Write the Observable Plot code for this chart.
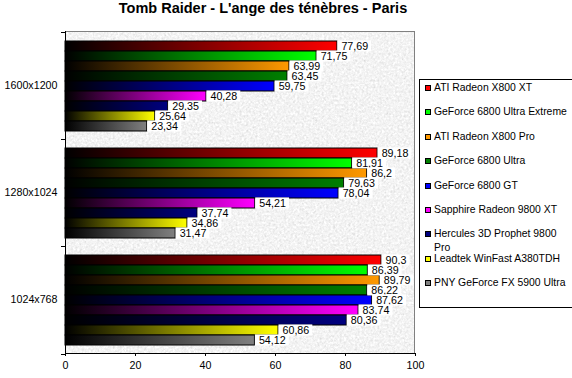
<!DOCTYPE html>
<html>
<head>
<meta charset="utf-8">
<script src="https://cdn.jsdelivr.net/npm/d3@7"></script>
<script src="https://cdn.jsdelivr.net/npm/@observablehq/plot@0.6"></script>
<style>
  html, body { margin: 0; padding: 0; background: #ffffff; overflow: hidden; }
  #wrap { position: relative; width: 572px; height: 378px; font-family: "Liberation Sans", Arial, sans-serif; }
  #title { position: absolute; left: 0; top: 0; width: 526px; text-align: center; font-weight: bold; font-size: 14.5px; line-height: 17px; color: #000; }
  #plot { position: absolute; left: 0; top: 0; }
  #legend { position: absolute; left: 419px; top: 79px; width: 160px; height: 227px; border: 1px solid #000; background: #fff; }
  .item { position: absolute; left: 5px; font-size: 10.4px; line-height: 14px; color: #000; }
  .sw { position: absolute; left: 0; top: 4px; width: 4px; height: 4px; border: 1px solid #000; }
  .lab { position: absolute; left: 9px; top: 0; width: 138px; white-space: normal; }
</style>
</head>
<body>
<div id="wrap">
  <div id="plot"></div>
  <div id="title">Tomb Raider - L'ange des ténèbres - Paris</div>
  <div id="legend"></div>
</div>
<script>
const groups = ["1600x1200", "1280x1024", "1024x768"];
const series = [
  "ATI Radeon X800 XT",
  "GeForce 6800 Ultra Extreme",
  "ATI Radeon X800 Pro",
  "GeForce 6800 Ultra",
  "GeForce 6800 GT",
  "Sapphire Radeon 9800 XT",
  "Hercules 3D Prophet 9800 Pro",
  "Leadtek WinFast A380TDH",
  "PNY GeForce FX 5900 Ultra"
];
const colors = ["#ff0000", "#00ff00", "#ff9900", "#008000", "#0000ff", "#ff00ff", "#000080", "#ffff00", "#808080"];
const values1600 = [77.69, 71.75, 63.99, 63.45, 59.75, 40.28, 29.35, 25.64, 23.34];
const values1280 = [89.18, 81.91, 86.2, 79.63, 78.04, 54.21, 37.74, 34.86, 31.47];
const values1024 = [90.3, 86.39, 89.79, 86.22, 87.62, 83.74, 80.36, 60.86, 54.12];
const xTicks = [0, 20, 40, 60, 80, 100];

const valueSets = [values1600, values1280, values1024];
const data = groups.flatMap((g, gi) => valueSets[gi].map((v, i) => ({group: g, series: series[i], value: v, idx: i})));
const fmt = v => String(v).replace(".", ",");

const plot = Plot.plot({
  width: 572,
  height: 378,
  marginLeft: 65,
  marginRight: 157,
  marginTop: 31,
  marginBottom: 24,
  style: {fontFamily: "'Liberation Sans', Arial, sans-serif", fontSize: "10.7px", color: "#000", background: "transparent", overflow: "visible"},
  x: {domain: [0, 100], ticks: xTicks, tickSize: 3, tickPadding: 5, label: null},
  y: {domain: series, axis: null, paddingInner: 0, paddingOuter: 0.83},
  fy: {domain: groups, padding: 0, label: null, axis: "left", tickSize: 0, tickPadding: 8},
  color: {type: "identity"},
  marks: [
    Plot.barX(data, {fy: "group", y: "series", x: "value", fill: d => `url(#grad${d.idx})`, stroke: "#000", strokeWidth: 1}),
    Plot.text(data, {fy: "group", y: "series", x: "value", text: d => fmt(d.value), textAnchor: "start", dx: 4, fill: "#000"})
  ]
});
document.getElementById("plot").appendChild(plot);

const svg = d3.select(plot);
const defs = svg.insert("defs", ":first-child");
series.forEach((s, i) => {
  const g = defs.append("linearGradient").attr("id", "grad" + i).attr("x1", 0).attr("x2", 1).attr("y1", 0).attr("y2", 0);
  g.append("stop").attr("offset", 0).attr("stop-color", "#000");
  g.append("stop").attr("offset", 1).attr("stop-color", colors[i]);
});
const f = defs.append("filter").attr("id", "noise").attr("x", 0).attr("y", 0).attr("width", 1).attr("height", 1);
f.append("feTurbulence").attr("type", "fractalNoise").attr("baseFrequency", 0.45).attr("numOctaves", 3).attr("seed", 7);
f.append("feColorMatrix").attr("type", "matrix").attr("values", "0.33 0.33 0.33 0 0  0.33 0.33 0.33 0 0  0.33 0.33 0.33 0 0  0 0 0 0 1");
const ct = f.append("feComponentTransfer");
["feFuncR", "feFuncG", "feFuncB"].forEach(n => ct.append(n).attr("type", "linear").attr("slope", 0.7).attr("intercept", 0.55));

const xs = plot.scale("x");
const fys = plot.scale("fy");
const x0 = xs.apply(0), x1 = xs.apply(100);
const y0 = fys.range[0], y1 = fys.range[1];

svg.insert("rect", "g").attr("x", x0).attr("y", y0).attr("width", x1 - x0).attr("height", y1 - y0).attr("fill", "#e8e8e8").attr("filter", "url(#noise)");

// value label boxes
svg.selectAll('g[aria-label="text"] text').each(function() {
  const b = this.getBBox();
  const cy = b.y + b.height / 2;
  const r = document.createElementNS("http://www.w3.org/2000/svg", "rect");
  r.setAttribute("x", b.x - 4);
  r.setAttribute("y", cy - 5.5);
  r.setAttribute("width", b.width + 7);
  r.setAttribute("height", 11);
  r.setAttribute("fill", "#fff");
  const t = this.getAttribute("transform");
  if (t) r.setAttribute("transform", t);
  this.parentNode.insertBefore(r, this);
});

// frame lines
const fr = svg.append("g");
fr.append("line").attr("x1", x0).attr("x2", x1).attr("y1", y0 + 0.5).attr("y2", y0 + 0.5).attr("stroke", "#808080");
fr.append("line").attr("x1", x1 - 0.5).attr("x2", x1 - 0.5).attr("y1", y0).attr("y2", y1).attr("stroke", "#808080");
fr.append("line").attr("x1", x0 + 0.5).attr("x2", x0 + 0.5).attr("y1", y0).attr("y2", y1).attr("stroke", "#000");
fr.append("line").attr("x1", x0).attr("x2", x1).attr("y1", y1 - 0.5).attr("y2", y1 - 0.5).attr("stroke", "#000");
const bounds = groups.map(g => fys.apply(g)).concat([y1]);
bounds.forEach(b => {
  const yy = Math.round(b) + 0.5;
  fr.append("line").attr("x1", x0 - 4).attr("x2", x0).attr("y1", yy).attr("y2", yy).attr("stroke", "#000");
});

// legend
const legend = document.getElementById("legend");
series.forEach((s, i) => {
  const it = document.createElement("div");
  it.className = "item";
  it.style.top = (1 + i * 24.4) + "px";
  const sw = document.createElement("div");
  sw.className = "sw";
  sw.style.background = colors[i];
  const lab = document.createElement("div");
  lab.className = "lab";
  lab.textContent = s;
  it.appendChild(sw);
  it.appendChild(lab);
  legend.appendChild(it);
});
</script>
</body>
</html>
